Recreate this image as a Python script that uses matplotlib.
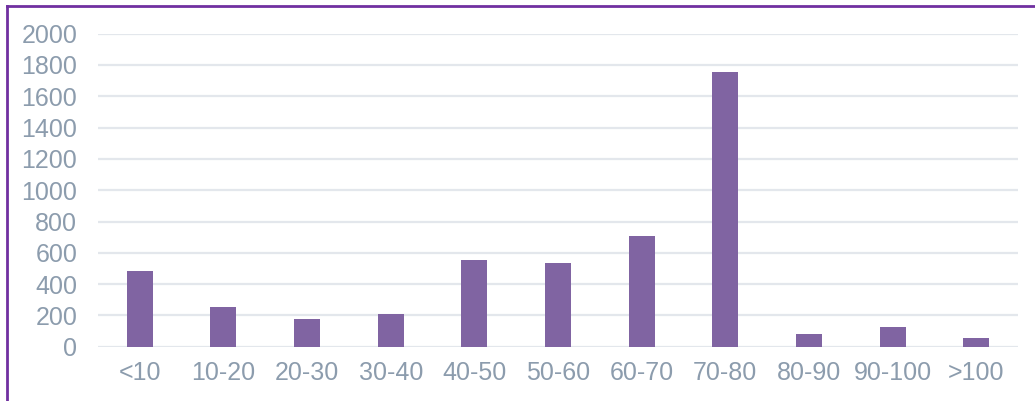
import matplotlib
matplotlib.use("Agg")
import matplotlib.pyplot as plt
from matplotlib.lines import Line2D

categories = ["<10", "10-20", "20-30", "30-40", "40-50", "50-60",
              "60-70", "70-80", "80-90", "90-100", ">100"]
counts = [484, 252, 177, 207, 554, 533, 705, 1757, 83, 126, 54]
y_ticks = [0, 200, 400, 600, 800, 1000, 1200, 1400, 1600, 1800, 2000]

bar_color = "#8064A2"
text_color = "#8C9CAD"
grid_color = "#E3E7EC"
frame_color = "#7030A0"

plt.rcParams["font.family"] = ["Liberation Sans", "DejaVu Sans"]

fig = plt.figure(figsize=(10.35, 4.01), dpi=100)
ax = fig.add_axes([98 / 1035, 1 - 346.7 / 401, 920 / 1035, 313 / 401])

x = range(len(categories))
ax.bar(x, counts, width=0.31, color=bar_color, zorder=3)

ax.set_xlim(-0.5, len(categories) - 0.5)
ax.set_ylim(0, 2000)
ax.set_yticks(y_ticks)
ax.set_xticks(list(x))
ax.set_xticklabels(categories)
ax.yaxis.grid(True, color=grid_color, linewidth=1.6, zorder=0)
ax.tick_params(axis="both", length=0, labelsize=18, labelcolor=text_color)
ax.tick_params(axis="y", pad=15)
ax.tick_params(axis="x", pad=10)
for side in ax.spines.values():
    side.set_visible(False)

# purple frame around the chart area (top and left edges visible)
fig.add_artist(Line2D([6.5 / 1035, 1.0], [1 - 5.7 / 401, 1 - 5.7 / 401],
                      transform=fig.transFigure, color=frame_color, linewidth=2))
fig.add_artist(Line2D([6.5 / 1035, 6.5 / 1035], [0, 1 - 5.7 / 401],
                      transform=fig.transFigure, color=frame_color, linewidth=2))

fig.savefig("out.png", dpi=100)
